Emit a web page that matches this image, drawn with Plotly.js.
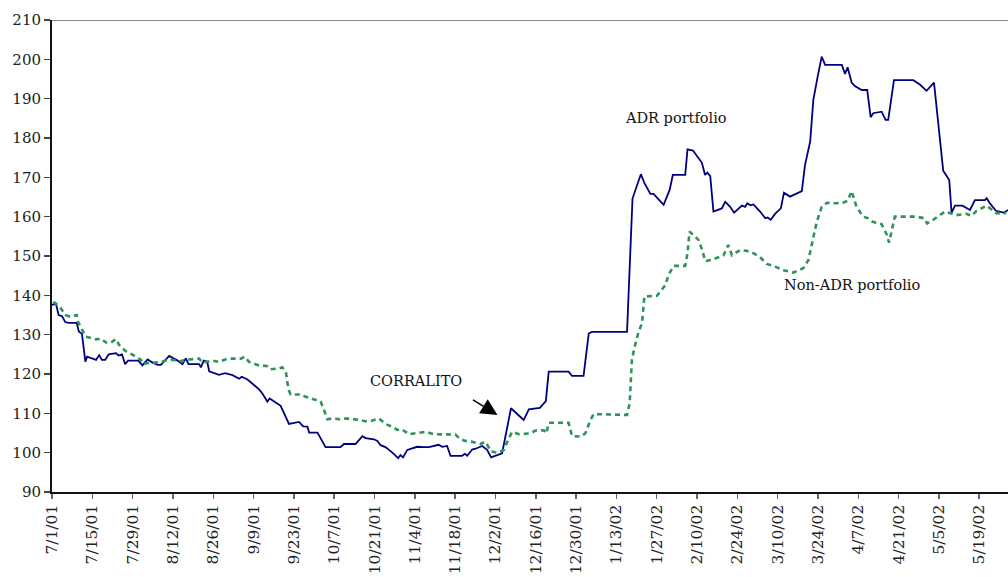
<!DOCTYPE html>
<html>
<head>
<meta charset="utf-8">
<script src="https://cdn.plot.ly/plotly-3.0.1.min.js"></script>
<style>html,body{margin:0;padding:0;background:#fff;}#chart{width:1008px;height:577px;}</style>
</head>
<body>
<div id="chart"></div>
<script>
// Days elapsed since 7/1/01 and index values
var adrDays = [0,1.4,2.3,3.5,4.6,5.8,8.6,9.3,10.4,11.6,12.2,15.3,16.4,17.3,18.5,19.7,22.2,23.1,24.3,25.4,26.4,30,31.4,33.2,34.9,36.7,37.8,40.7,43.6,45.3,46.5,47.4,51.1,51.7,52.7,53.9,54.6,58,60.1,62.7,65,65.9,67.9,71.9,73,74.8,75.6,78.3,79.4,82.3,84,85.8,87.2,88.7,89.3,92.2,95,99.1,100.2,101.4,105.4,107.8,108.9,111.8,113,114.1,115.8,118.2,120.2,121,121.9,123.4,126.8,129.1,130.9,134.3,135.5,137.2,138.4,142.4,143.4,144.2,145.9,147.1,149.4,151.1,152.5,156.3,159.4,163.8,165.6,169.4,171.5,172.5,179.4,180.6,184.6,186.4,187.5,199.7,201.6,204.5,205.7,207.8,208.9,212.4,214.5,215.6,219.9,220.7,222.6,225.7,226.8,227.6,228.6,229.7,232.6,233.8,235.5,236.9,239.6,240.7,241.5,242.5,243.6,245.9,247.7,248.5,249.6,251.1,253.1,254.2,256.3,260.4,261.5,263.3,264.4,265.9,267.3,268.5,274.3,275.4,276.3,277.7,278.8,281.2,283.1,284.3,285.2,288.1,289.5,290.4,291.2,292.4,299.1,301.4,303.7,304.9,306.3,309.5,310.9,311.6,312.4,313.6,316.2,317.6,318.8,320.5,324,324.6,325.7,327.8,330.6,332];
var adrValues = [137.6,137.8,135.0,134.7,133.2,133.0,133.0,130.8,130.2,123.1,124.4,123.6,124.8,123.6,123.6,125.0,125.3,124.7,125.0,122.5,123.4,123.4,122.2,123.7,122.9,122.3,122.3,124.6,123.4,122.5,124.0,122.5,122.5,121.7,123.4,123.1,120.7,119.8,120.2,119.7,118.8,119.3,118.6,116.1,115.1,113.0,113.8,112.4,111.9,107.3,107.6,107.8,106.7,106.6,105.1,105.1,101.4,101.5,101.4,102.2,102.2,104.2,103.7,103.4,103.0,101.9,101.4,100.0,98.6,99.4,98.8,100.7,101.5,101.4,101.4,102.0,101.5,101.7,99.2,99.2,99.7,99.2,100.8,101.0,101.7,100.7,98.8,99.8,111.3,108.3,111.0,111.4,113.1,120.6,120.6,119.5,119.5,130.3,130.7,130.7,164.6,170.8,168.6,165.8,165.8,163.0,166.8,170.6,170.6,177.1,176.8,173.7,170.6,171.2,170.3,161.3,162.1,163.8,162.5,161.0,162.8,162.5,163.4,162.9,163.1,161.3,159.6,159.8,159.2,160.7,162.1,166.1,165.1,166.5,173.1,179.1,189.7,195.6,200.7,198.6,198.6,196.3,198.0,194.1,193.2,192.2,192.2,185.3,186.3,186.7,184.6,184.6,188.4,194.7,194.7,193.6,192.0,193.0,194.1,171.7,170.2,169.3,161.0,162.8,162.8,162.1,161.7,164.2,164.2,164.7,163.4,161.5,161.0,161.7];

var nonAdrDays = [0.5,2.8,4.6,6.2,8.6,9.0,11.7,12.9,15.3,17,18.7,20.5,22.2,23.3,25.4,28.2,30.9,31.7,33.8,37.2,39.5,41.9,44.2,47.6,51.1,52.3,55.7,58,59.8,60.9,65.6,67,68.4,71.3,74.8,75.9,78.8,80,81.2,82.1,82.9,86.4,88.1,89.8,93.3,94.5,95.6,97.4,99.7,102,104.3,106.6,108.9,111,113.5,115.8,118.2,119.9,121.6,123.9,126.3,129.7,132.6,136.7,140.1,141.9,143.6,145.6,148.8,150.5,152.5,154.6,156.9,158.6,159.8,162.1,166.1,167.9,170.8,171.7,172.5,179.4,180.6,183.5,185.2,187,188.1,199.7,200.6,201.4,202.2,203.7,204.9,205.7,207.2,210.1,213,214.1,215.9,219.9,220.7,221.4,222.8,224.5,226,226.8,229.1,231.4,233.2,234.9,236.1,239,241.3,243.6,245.9,248.2,251.1,254,257.5,260.9,262.7,264.2,265.6,267.3,269.1,272,274.9,276.3,277.7,279.4,281.7,283.4,285,288.1,289.8,290.7,291.5,292.7,300.2,302.9,303.9,306,310.1,314.1,317.6,319.3,321.1,324.6,327.9,331.4];
var nonAdrValues = [138.4,137.0,135.0,134.6,135.0,133.3,129.5,129.3,128.8,129.0,128.0,128.0,128.9,127.4,125.9,124.8,123.6,122.5,122.9,122.9,123.4,123.6,123.2,123.7,123.9,122.9,123.4,123.1,123.6,123.9,123.9,124.4,123.1,122.3,122.0,121.2,121.4,121.7,120.6,116.1,114.8,114.8,114.2,113.8,113.0,110.8,108.5,108.7,108.5,108.7,108.6,108.3,108.0,108.1,108.7,107.3,106.6,105.8,105.9,104.7,104.9,105.3,104.7,104.7,104.6,103.4,103.0,102.8,102.2,102.8,100.3,100.0,100.7,103.6,105.3,104.7,104.9,105.6,105.7,104.9,107.6,107.6,104.2,104.1,104.9,108.3,109.8,109.6,112.5,123.6,126.5,130.7,132.9,139.7,139.8,139.9,142.6,145.2,147.5,147.5,150.7,156.2,155.3,154.1,151.1,148.7,149.0,149.7,150.2,152.8,150.2,151.5,151.3,150.7,149.7,148.0,147.3,146.4,145.8,146.9,149.0,154.1,158.7,162.5,163.5,163.4,163.6,164.0,166.5,162.5,160.0,159.6,158.7,158.1,155.6,153.4,155.8,160.0,160.0,159.6,158.3,159.2,161.3,160.4,160.7,160.2,161.5,162.8,160.9,160.9];

var seriesNames = ['ADR portfolio', 'Non-ADR portfolio'];
var eventLabel = 'CORRALITO';

var T0 = Date.UTC(2001, 6, 1);
var DAY = 86400000;
function toDates(days) { return days.map(function (d) { return T0 + d * DAY; }); }

var serif = '"DejaVu Serif", serif';

var traces = [
  { x: toDates(adrDays), y: adrValues, type: 'scatter', mode: 'lines', name: seriesNames[0],
    line: { color: '#000080', width: 1.8 } },
  { x: toDates(nonAdrDays), y: nonAdrValues, type: 'scatter', mode: 'lines', name: seriesNames[1],
    line: { color: '#2E9459', width: 2.6, dash: '5px,4px' } }
];

var layout = {
  width: 1008, height: 577,
  margin: { l: 52, r: 0, t: 20, b: 85 },
  paper_bgcolor: '#fff', plot_bgcolor: '#fff',
  showlegend: false,
  font: { family: serif, size: 15, color: '#222' },
  xaxis: {
    type: 'date',
    range: [T0, T0 + 332 * DAY],
    tick0: '2001-07-01', dtick: 14 * DAY,
    tickformat: '%-m/%-d/%y',
    tickangle: -90,
    ticks: 'outside', ticklen: 5, tickcolor: '#666', tickwidth: 1.5,
    showgrid: false, zeroline: false,
    showline: true, linecolor: '#111', linewidth: 1.5,
    tickfont: { family: serif, size: 15.5, color: '#222' }
  },
  yaxis: {
    range: [90, 210], dtick: 10, tick0: 90,
    ticks: 'outside', ticklen: 6, tickcolor: '#444', tickwidth: 1.5,
    showgrid: false, zeroline: false,
    showline: true, linecolor: '#111', linewidth: 2,
    tickfont: { family: serif, size: 15, color: '#222' }
  },
  shapes: [
    { type: 'line', xref: 'paper', yref: 'y', x0: 0, x1: 1, y0: 210, y1: 210,
      line: { color: '#666', width: 1.5 } }
  ],
  annotations: [
    { x: T0 + 216.8 * DAY, y: 185.1, text: seriesNames[0], showarrow: false,
      font: { family: serif, size: 14.5, color: '#111' } },
    { x: T0 + 277.8 * DAY, y: 142.6, text: seriesNames[1], showarrow: false,
      font: { family: serif, size: 14.5, color: '#111' } },
    { x: T0 + 126.3 * DAY, y: 118.2, text: eventLabel, showarrow: false,
      font: { family: serif, size: 14.5, color: '#111' } },
    { x: T0 + 154.7 * DAY, y: 109.6, text: '', showarrow: true,
      ax: -26, ay: -16, arrowhead: 2, arrowsize: 2.2, arrowwidth: 1.5, arrowcolor: '#000' }
  ]
};

Plotly.newPlot('chart', traces, layout, { displayModeBar: false, staticPlot: true });
</script>
</body>
</html>
